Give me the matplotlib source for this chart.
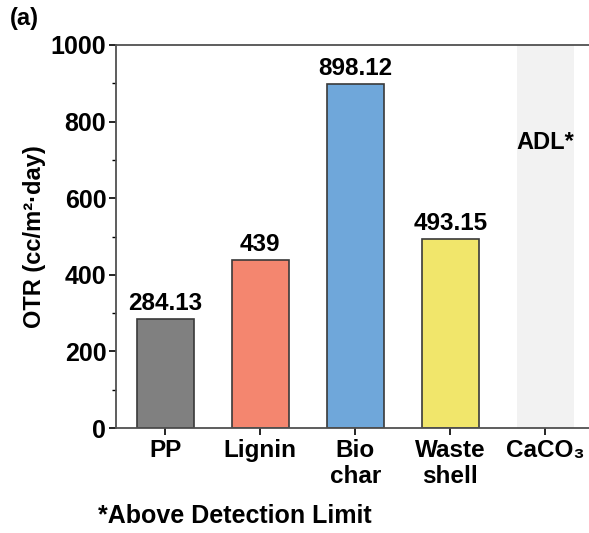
import numpy as np
import matplotlib.pyplot as plt

plt.rcParams['font.family'] = ['Liberation Sans', 'DejaVu Sans']
plt.rcParams['font.weight'] = 'bold'

categories = ['PP', 'Lignin', 'Bio\nchar', 'Waste\nshell', 'CaCO₃']
values = [284.13, 439, 898.12, 493.15]
value_labels = ['284.13', '439', '898.12', '493.15']
colors = ['#808080', '#f4866f', '#6fa7da', '#f1e66b']

fig = plt.figure(figsize=(5.89, 5.33), dpi=100)
ax = fig.add_axes([116/589, 1 - 428/533, 1 - 116/589, (428 - 45)/533])

x = np.arange(len(categories))
# CaCO3 above detection limit: light shaded column
ax.bar(x[4], 1000, width=0.6, color='#f2f2f2', edgecolor='none', zorder=1)
ax.bar(x[:4], values, width=0.6, color=colors, edgecolor='#3a3a3a', linewidth=1.2, zorder=2)
for xi, v, lab in zip(x[:4], values, value_labels):
    ax.text(xi, v + 10, lab, ha='center', va='bottom', fontsize=17.5, fontweight='bold')
ax.text(x[4], 745, 'ADL*', ha='center', va='center', fontsize=17, fontweight='bold')

ax.set_xlim(-0.52, 4.46)
ax.set_ylim(0, 1000)
ax.set_xticks(x)
ax.set_xticklabels(categories, fontsize=17.5, fontweight='bold', linespacing=1.15)
ax.set_yticks(np.arange(0, 1001, 200))
ax.set_yticks(np.arange(100, 1000, 200), minor=True)
ax.tick_params(axis='y', labelsize=18, width=1.2, length=5, direction='out', pad=2)
ax.tick_params(axis='y', which='minor', width=1.0, length=3)
ax.tick_params(axis='x', width=1.2, length=5, direction='out', pad=3)
for lab in ax.get_yticklabels():
    lab.set_fontweight('bold')

ax.spines['right'].set_visible(False)
for s in ['left', 'bottom', 'top']:
    ax.spines[s].set_linewidth(1.3)
    ax.spines[s].set_color('#505050')

ax.set_ylabel('OTR (cc/m²·day)', fontsize=17, fontweight='bold', labelpad=3)
fig.text(10/589, 1 - 18/533, '(a)', fontsize=17, fontweight='bold', va='center')
fig.text(98/589, 1 - 516/533, '*Above Detection Limit', fontsize=18, fontweight='bold', va='center')

fig.savefig('out.png', dpi=100)
